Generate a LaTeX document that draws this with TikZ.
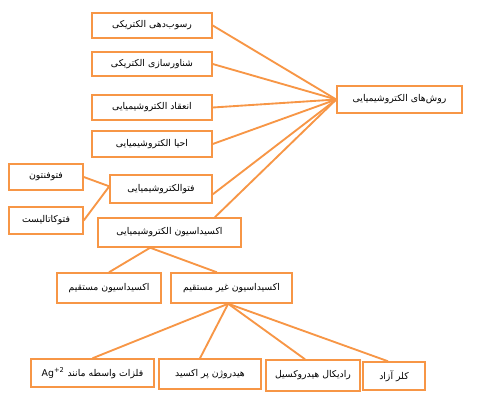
\documentclass[tikz,border=0pt]{standalone}
\usepackage{fontspec}
\usepackage{xcolor,amsmath}
\newfontfamily\persianfont[Script=Arabic]{DejaVu Sans}
\newfontfamily\latinfont{DejaVu Sans}
\TeXXeTstate=1
\definecolor{boxorange}{RGB}{247,150,70}
\tikzset{
  methodbox/.style={draw=boxorange,line width=1.1pt,fill=white,inner sep=0.75pt,
    font=\persianfont\fontsize{7}{8.5}\selectfont},
  link/.style={draw=boxorange,line width=1.4pt}
}
\newcommand{\fa}[1]{\beginR #1\endR}

\begin{document}
\begin{tikzpicture}[x=0.75pt,y=0.75pt,yscale=-1,xscale=1]
\useasboundingbox (0,0) rectangle (487,410);

%Shape: Rectangle [root]
\node [methodbox,minimum width=93.75pt,minimum height=20.25pt] (root) at (399.5,99.5) {\fa{روش‌های الکتروشیمیایی}};

%Shape: Rectangle [left column]
\node [methodbox,minimum width=90pt,minimum height=18.75pt] (deposit) at (152,25.5) {\fa{رسوب‌دهی الکتریکی}};
\node [methodbox,minimum width=90pt,minimum height=18pt] (flotation) at (152,64) {\fa{شناورسازی الکتریکی}};
\node [methodbox,minimum width=90pt,minimum height=18.75pt] (coagulation) at (152,107.5) {\fa{انعقاد الکتروشیمیایی}};
\node [methodbox,minimum width=90pt,minimum height=19.5pt] (reduction) at (152,144) {\fa{احیا الکتروشیمیایی}};
\node [methodbox,minimum width=76.5pt,minimum height=21pt] (photo) at (161,189) {\fa{فتوالکتروشیمیایی}};
\node [methodbox,minimum width=55.5pt,minimum height=19.5pt] (fenton) at (46,177) {\fa{فتوفنتون}};
\node [methodbox,minimum width=55.5pt,minimum height=20.25pt] (catalyst) at (46,220.5) {\fa{فتوکاتالیست}};
\node [methodbox,minimum width=107.25pt,minimum height=21.75pt] (oxid) at (169.5,232.5) {\fa{اکسیداسیون الکتروشیمیایی}};

%Shape: Rectangle [oxidation]
\node [methodbox,minimum width=78pt,minimum height=22.5pt] (direct) at (109,288) {\fa{اکسیداسیون مستقیم}};
\node [methodbox,minimum width=90.75pt,minimum height=22.5pt] (indirect) at (231.5,288) {\fa{اکسیداسیون غیر مستقیم}};

%Shape: Rectangle [oxidants]
\node [methodbox,minimum width=92.25pt,minimum height=21pt] (metal) at (92.5,373) {\fa{فلزات واسطه مانند \beginL{\latinfont Ag\textsuperscript{+2}}\endL}};
\node [methodbox,minimum width=76.5pt,minimum height=22.5pt] (peroxide) at (210,374) {\fa{هیدروژن پر اکسید}};
\node [methodbox,minimum width=70.5pt,minimum height=23.25pt] (hydroxyl) at (313,375.5) {\fa{رادیکال هیدروکسیل}};
\node [methodbox,minimum width=46.5pt,minimum height=21pt] (chlorine) at (394,376) {\fa{کلر آزاد}};

% Links
\draw [link] (deposit.east) -- (root.west);
\draw [link] (flotation.east) -- (root.west);
\draw [link] (coagulation.east) -- (root.west);
\draw [link] (reduction.east) -- (root.west);
\draw [link] ([yshift=4pt]photo.east) -- (root.west);
\draw [link] ([xshift=34pt]oxid.north) -- (root.west);
\draw [link] (fenton.east) -- ([yshift=-2pt]photo.west);
\draw [link] (catalyst.east) -- ([yshift=-2pt]photo.west);
\draw [link] ([xshift=-14.5pt]oxid.south) -- (direct.north);
\draw [link] ([xshift=-14.5pt]oxid.south) -- ([xshift=-11pt]indirect.north);
\draw [link] ([xshift=-2.5pt]indirect.south) -- (metal.north);
\draw [link] ([xshift=-2.5pt]indirect.south) -- ([xshift=-7.5pt]peroxide.north);
\draw [link] ([xshift=-2.5pt]indirect.south) -- ([xshift=-6pt]hydroxyl.north);
\draw [link] ([xshift=-2.5pt]indirect.south) -- ([xshift=-4.5pt]chlorine.north);

\end{tikzpicture}
\end{document}
